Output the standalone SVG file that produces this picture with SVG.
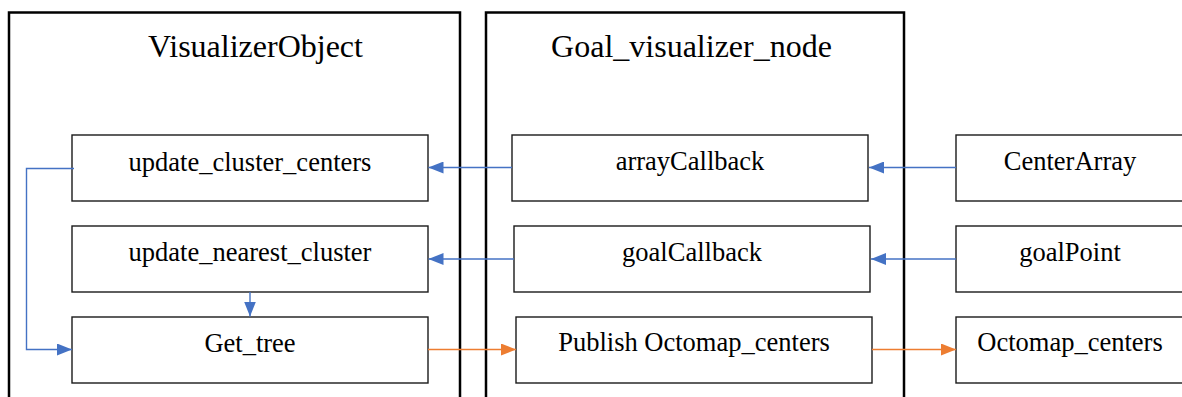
<svg xmlns="http://www.w3.org/2000/svg" width="1182" height="397" viewBox="0 0 1182 397">
  <style>
    .frame { fill: none; stroke: #000; stroke-width: 2.5; }
    .box { fill: #fff; stroke: #1a1a1a; stroke-width: 1.4; }
    .title { font-family: "Liberation Serif", "Times New Roman", serif; font-size: 32px; fill: #000; text-anchor: middle; }
    .label { font-family: "Liberation Serif", "Times New Roman", serif; font-size: 26.5px; fill: #000; text-anchor: middle; }
    .blue { fill: none; stroke: #4472C4; stroke-width: 1.4; }
    .orange { fill: none; stroke: #ED7D31; stroke-width: 1.4; }
  </style>
  <defs>
    <marker id="headBlue" viewBox="0 0 15 12" refX="15" refY="6" markerUnits="userSpaceOnUse" markerWidth="15" markerHeight="12" orient="auto">
      <path d="M0,0 L15,6 L0,12 Z" fill="#4472C4"/>
    </marker>
    <marker id="headOrange" viewBox="0 0 15 12" refX="15" refY="6" markerUnits="userSpaceOnUse" markerWidth="15" markerHeight="12" orient="auto">
      <path d="M0,0 L15,6 L0,12 Z" fill="#ED7D31"/>
    </marker>
  </defs>

  <rect width="1182" height="397" fill="#fff"/>

  <!-- containers -->
  <g id="visualizer-object">
    <rect class="frame" x="9" y="12.5" width="451" height="400"/>
    <text class="title" x="255.5" y="57">VisualizerObject</text>
  </g>
  <g id="goal-visualizer-node">
    <rect class="frame" x="486" y="12.5" width="418" height="400"/>
    <text class="title" x="691.5" y="57">Goal_visualizer_node</text>
  </g>

  <!-- VisualizerObject methods -->
  <g id="update-cluster-centers">
    <rect class="box" x="72" y="135" width="356" height="66"/>
    <text class="label" x="250" y="171">update_cluster_centers</text>
  </g>
  <g id="update-nearest-cluster">
    <rect class="box" x="72" y="226" width="356" height="66"/>
    <text class="label" x="250" y="261">update_nearest_cluster</text>
  </g>
  <g id="get-tree">
    <rect class="box" x="72" y="317" width="356" height="66"/>
    <text class="label" x="250" y="352">Get_tree</text>
  </g>

  <!-- node callbacks -->
  <g id="array-callback">
    <rect class="box" x="512" y="135" width="356" height="66"/>
    <text class="label" x="690" y="170">arrayCallback</text>
  </g>
  <g id="goal-callback">
    <rect class="box" x="514" y="226" width="356" height="66"/>
    <text class="label" x="692" y="261">goalCallback</text>
  </g>
  <g id="publish-octomap-centers">
    <rect class="box" x="516" y="317" width="356" height="66"/>
    <text class="label" x="694" y="351">Publish Octomap_centers</text>
  </g>

  <!-- topics -->
  <g id="center-array">
    <rect class="box" x="956" y="135" width="240" height="66"/>
    <text class="label" x="1070" y="170">CenterArray</text>
  </g>
  <g id="goal-point">
    <rect class="box" x="956" y="226" width="240" height="66"/>
    <text class="label" x="1070" y="261">goalPoint</text>
  </g>
  <g id="octomap-centers">
    <rect class="box" x="956" y="317" width="240" height="66"/>
    <text class="label" x="1070" y="351">Octomap_centers</text>
  </g>

  <!-- connectors -->
  <g id="connectors">
    <path class="blue" d="M956,167.5 L869,167.5" marker-end="url(#headBlue)"/>
    <path class="blue" d="M956,259 L871,259" marker-end="url(#headBlue)"/>
    <path class="blue" d="M512,167.5 L428.5,167.5" marker-end="url(#headBlue)"/>
    <path class="blue" d="M514,259 L428.5,259" marker-end="url(#headBlue)"/>
    <path class="blue" d="M74,168.5 L26.5,168.5 L26.5,349.5 L72,349.5" marker-end="url(#headBlue)"/>
    <path class="blue" d="M250,292 L250,316.5" marker-end="url(#headBlue)"/>
    <path class="orange" d="M428,349.5 L516,349.5" marker-end="url(#headOrange)"/>
    <path class="orange" d="M872,349.5 L956,349.5" marker-end="url(#headOrange)"/>
  </g>
</svg>
